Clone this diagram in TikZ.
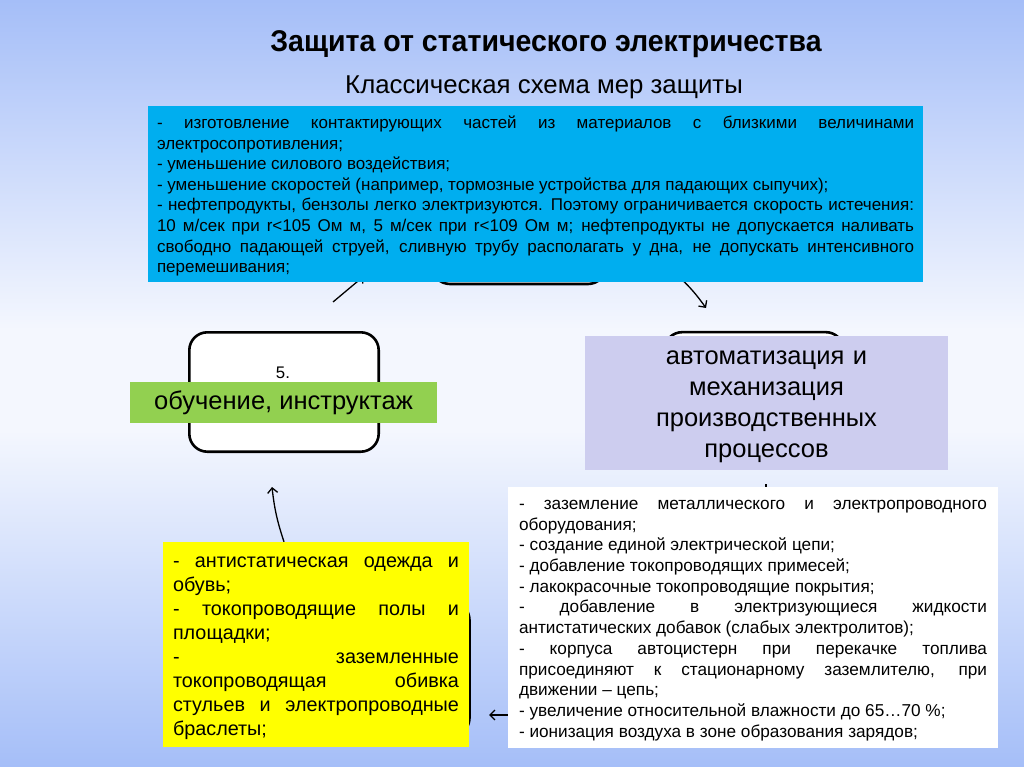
\documentclass[tikz,border=0pt]{standalone}
\usepackage{fontspec}
\setmainfont{Liberation Sans}
\newfontfamily\narrowfont{Liberation Sans}[FakeStretch=0.95]
\usepackage{tikz}
\usetikzlibrary{arrows.meta, positioning}
\definecolor{skyblue}{HTML}{00AEEF}
\definecolor{lavender}{HTML}{CDCDEF}
\definecolor{leafgreen}{HTML}{92D050}
\definecolor{brightyellow}{HTML}{FFFF00}
\definecolor{bgblue}{HTML}{A5BEF8}
\definecolor{bgwhite}{HTML}{F4F7FE}
\pgfdeclarelayer{background}
\pgfsetlayers{background,main}
\setlength{\parindent}{0pt}

\begin{document}
\begin{tikzpicture}[x=1pt, y=-1pt,
    backbox/.style={draw=black, line width=2.6pt, rounded corners=18pt,
      fill=white, inner sep=0pt},
    textbox/.style={inner ysep=0pt, align=justify,
      font=\fontsize{17}{20.6}\selectfont},
    cyanbox/.style  ={textbox, fill=skyblue, text width=757pt,
      inner xsep=9pt, minimum height=176pt},
    whitebox/.style ={textbox, fill=white, text width=468pt,
      inner xsep=11pt, minimum height=261pt,
      font=\fontsize{17.2}{20.7}\selectfont},
    yellowbox/.style={textbox, fill=brightyellow, text width=286pt,
      inner xsep=10pt, minimum height=205pt,
      font=\fontsize{19.8}{24}\selectfont},
    lavbox/.style={fill=lavender, minimum width=363pt, minimum height=134pt,
      text width=363pt, align=center, inner sep=0pt,
      font=\fontsize{25.5}{31}\selectfont},
    greenbox/.style={fill=leafgreen, minimum width=307pt, minimum height=41pt,
      inner sep=0pt, font=\fontsize{25.5}{30}\selectfont},
    arrow/.style={-{Straight Barb[length=5pt, width=10pt]},
      line width=1.3pt, color=black},
]
\useasboundingbox (0,0) rectangle (1024,767);
% titles
\node (title) at (546,44)
    {\narrowfont\bfseries\fontsize{30}{34}\selectfont Защита от статического электричества};
\node (subtitle) at (544,87)
    {\fontsize{25.8}{30}\selectfont Классическая схема мер защиты};
% framed boxes, mostly covered
\node[backbox, minimum width=174pt, minimum height=124pt] (topbox) at (519,222) {};
\node[backbox, minimum width=189.4pt, minimum height=119.4pt] (leftbox) at (284,392) {};
\node[backbox, minimum width=179.4pt, minimum height=127.7pt] (rightbox) at (754,396) {};
\node[backbox, minimum width=139.5pt, minimum height=134pt] (bottombox) at (399.75,669) {};
\node[font=\fontsize{16.8}{20}\selectfont] (num5) at (283,373) {5.};
% coloured boxes
\node[cyanbox] (measures) at (535.5,194)
    {\rule{0pt}{16.6pt}%
     - изготовление контактирующих частей из материалов с близкими величинами\linebreak
     электросопротивления;\par
     - уменьшение силового воздействия;\par
     - уменьшение скоростей (например, тормозные устройства для падающих сыпучих);\par
     - нефтепродукты, бензолы легко электризуются. Поэтому ограничивается скорость истечения:\linebreak
     10 м/сек при r<105 Ом м, 5 м/сек при r<109 Ом м; нефтепродукты не допускается наливать\linebreak
     свободно падающей струей, сливную трубу располагать у дна, не допускать интенсивного\linebreak
     перемешивания;};
\node[greenbox] (training) at (283.5,402.5) {обучение, инструктаж};
\node[lavbox] (automation) at (766.5,403)
    {\rule{0pt}{21.5pt}%
     автоматизация и\\механизация\\производственных\\процессов};
\node[whitebox] (grounding) at (753,617.5)
    {\rule{0pt}{15.1pt}%
     - заземление металлического и электропроводного\linebreak
     оборудования;\par
     - создание единой электрической цепи;\par
     - добавление токопроводящих примесей;\par
     - лакокрасочные токопроводящие покрытия;\par
     - добавление в электризующиеся жидкости\linebreak
     антистатических добавок (слабых электролитов);\par
     - корпуса автоцистерн при перекачке топлива\linebreak
     присоединяют к стационарному заземлителю, при\linebreak
     движении – цепь;\par
     - увеличение относительной влажности до 65…70 \%;\par
     - ионизация воздуха в зоне образования зарядов;};
\node[yellowbox] (clothing) at (316,644.5)
    {\rule{0pt}{18.5pt}%
     - антистатическая одежда и\linebreak
     обувь;\par
     - токопроводящие полы и\linebreak
     площадки;\par
     - заземленные\linebreak
     токопроводящая обивка\linebreak
     стульев и электропроводные\linebreak
     браслеты;};
\coordinate (leftlinestart) at (333,302);
\coordinate (leftlineend) at (364,276);
\coordinate (toparrowstart) at (676,274);
\coordinate (toparrowend) at (706,308);
\coordinate (dottip) at (766,484);
\coordinate (bottomarrowend) at (489,715);
\coordinate (uparrowend) at (272,487);
\begin{pgfonlayer}{background}
\shade[top color=bgblue, bottom color=bgwhite] (0,0) rectangle (1024,330);
\fill[bgwhite] (0,329) rectangle (1024,431);
\shade[top color=bgwhite, bottom color=bgblue] (0,430) rectangle (1024,767);
\draw[arrow] (leftlinestart) -- (leftlineend);
\draw[arrow] (toparrowstart) to[bend left=6] (toparrowend);
\draw[line width=1.3pt] (dottip) -- (dottip |- grounding.north);
\draw[arrow] (bottomarrowend -| grounding.west) -- (bottomarrowend);
\draw[arrow] (leftbox |- clothing.north) to[bend left=6] (uparrowend);
\end{pgfonlayer}
\end{tikzpicture}
\end{document}
